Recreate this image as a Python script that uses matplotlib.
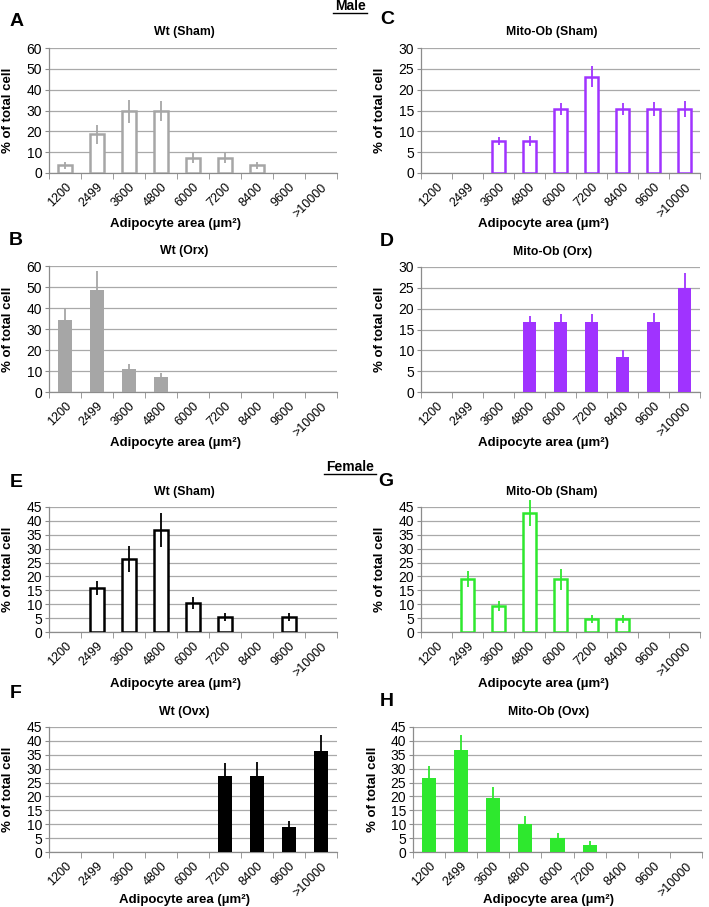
import numpy as np
import matplotlib
matplotlib.use('Agg')
import matplotlib.pyplot as plt
from matplotlib.lines import Line2D
from matplotlib.transforms import ScaledTranslation

plt.rcParams['font.family'] = ['Liberation Sans', 'DejaVu Sans']

######################
## data
######################

areas = ['1200', '2499', '3600', '4800', '6000', '7200', '8400', '9600', '>10000']

# male
wt_sham_m = [3.7, 18.5, 29.6, 29.6, 7.4, 7.4, 3.7, 0, 0]
wt_sham_m_err = [1.8, 4.5, 5.5, 4.8, 2.6, 2.6, 1.8, 0, 0]
mito_sham_m = [0, 0, 7.7, 7.7, 15.4, 23.1, 15.4, 15.4, 15.4]
mito_sham_m_err = [0, 0, 1.0, 1.1, 1.5, 2.5, 1.5, 1.7, 2.0]
wt_orx = [34.2, 48.4, 10.8, 7.3, 0, 0, 0, 0, 0]
wt_orx_err = [5.8, 9.0, 2.7, 1.7, 0, 0, 0, 0, 0]
mito_orx = [0, 0, 0, 16.7, 16.7, 16.7, 8.3, 16.7, 25.0]
mito_orx_err = [0, 0, 0, 1.6, 2.1, 2.0, 1.7, 2.3, 3.5]

# female
wt_sham_f = [0, 15.8, 26.3, 36.8, 10.5, 5.3, 0, 5.3, 0]
wt_sham_f_err = [0, 2.5, 4.7, 6.2, 2.2, 1.5, 0, 1.5, 0]
mito_sham_f = [0, 19.0, 9.5, 42.9, 19.0, 4.8, 4.8, 0, 0]
mito_sham_f_err = [0, 2.8, 1.8, 4.6, 3.8, 1.4, 1.4, 0, 0]
wt_ovx = [0, 0, 0, 0, 0, 27.3, 27.3, 9.1, 36.4]
wt_ovx_err = [0, 0, 0, 0, 0, 4.9, 5.2, 1.9, 5.8]
mito_ovx = [26.7, 36.7, 19.3, 10.0, 5.0, 2.5, 0, 0, 0]
mito_ovx_err = [4.3, 5.3, 4.0, 3.0, 2.0, 1.5, 0, 0, 0]

GRAY = '#a6a6a6'
PURPLE = '#a033ff'
GREEN = '#2ee82e'
BLACK = '#000000'

W, H = 709, 907
fig = plt.figure(figsize=(W / 100, H / 100), dpi=100)
shift = ScaledTranslation(-3 / 100, 0, fig.dpi_scale_trans)


def px_axes(left, top, right, bottom):
    return fig.add_axes([left / W, 1 - bottom / H, (right - left) / W, (bottom - top) / H])


def panel(rect, letter, letter_xy, title, vals, errs, color, filled, ymax, ystep,
          ylab_x, xlab_xy):
    ax = px_axes(*rect)
    x = np.arange(len(areas))
    vals = np.array(vals)
    errs = np.array(errs)
    show = vals > 0
    if filled:
        ax.bar(x[show], vals[show], width=0.44, color=color, zorder=3)
        ax.errorbar(x[show], vals[show], yerr=errs[show], fmt='none', ecolor=color,
                    elinewidth=1.3, capsize=0, zorder=2, clip_on=False)
    else:
        ax.bar(x[show], vals[show], width=0.42, facecolor='white', edgecolor=color,
               linewidth=1.8, zorder=3)
        ax.errorbar(x[show], vals[show], yerr=errs[show], fmt='none', ecolor=color,
                    elinewidth=1.3, capsize=0, zorder=4, clip_on=False)
    ax.set_xlim(-0.5, len(areas) - 0.5)
    ax.set_ylim(0, ymax)
    ax.set_yticks(np.arange(0, ymax + 0.1, ystep))
    ax.yaxis.grid(True, color='#a9a9a9', linewidth=0.9, zorder=0)
    ax.set_axisbelow(True)
    for s in ['top', 'right']:
        ax.spines[s].set_visible(False)
    for s in ['left', 'bottom']:
        ax.spines[s].set_color('#8c8c8c')
        ax.spines[s].set_linewidth(0.9)
    ax.set_xticks(x)
    ax.set_xticklabels(areas, rotation=45, ha='right', rotation_mode='anchor',
                       fontsize=9)
    for lbl in ax.get_xticklabels():
        lbl.set_transform(lbl.get_transform() + shift)
    ax.set_xticks(np.arange(-0.5, len(areas)), minor=True)
    ax.tick_params(axis='x', which='major', length=0, pad=6)
    ax.tick_params(axis='x', which='minor', length=4, color='#8c8c8c')
    ax.tick_params(axis='y', length=3, color='#8c8c8c', labelsize=10, pad=2)
    ax.set_title(title, fontsize=8.8, fontweight='bold', x=0.47, pad=9)
    ax.set_ylabel('% of total cell', fontsize=9.5, fontweight='bold')
    ax.yaxis.set_label_coords(ylab_x, 0.5)
    ax.set_xlabel('Adipocyte area (µm²)', fontsize=9.5, fontweight='bold')
    ax.xaxis.set_label_coords(*xlab_xy)
    fig.text(letter_xy[0] / W, 1 - letter_xy[1] / H, letter, fontsize=14,
             fontweight='bold', ha='center', va='center')
    return ax


panel((49, 48, 337, 173), 'A', (17, 22), 'Wt (Sham)', wt_sham_m, wt_sham_m_err,
      GRAY, False, 60, 10, -0.12, (0.44, -0.36))
panel((421, 48, 700, 173), 'C', (387, 20), 'Mito-Ob (Sham)', mito_sham_m, mito_sham_m_err,
      PURPLE, False, 30, 5, -0.125, (0.44, -0.36))
panel((49, 266, 337, 392), 'B', (16, 240), 'Wt (Orx)', wt_orx, wt_orx_err,
      GRAY, True, 60, 10, -0.12, (0.44, -0.36))
panel((421, 267, 700, 392), 'D', (387, 242), 'Mito-Ob (Orx)', mito_orx, mito_orx_err,
      PURPLE, True, 30, 5, -0.125, (0.44, -0.36))
panel((49, 507, 337, 632), 'E', (16, 483), 'Wt (Sham)', wt_sham_f, wt_sham_f_err,
      BLACK, False, 45, 5, -0.12, (0.44, -0.365))
panel((421, 507, 700, 632), 'G', (386, 482), 'Mito-Ob (Sham)', mito_sham_f, mito_sham_f_err,
      GREEN, False, 45, 5, -0.125, (0.44, -0.365))
panel((49, 727, 337, 852), 'F', (16, 693), 'Wt (Ovx)', wt_ovx, wt_ovx_err,
      BLACK, True, 45, 5, -0.12, (0.47, -0.34))
panel((413, 727, 702, 852), 'H', (387, 702), 'Mito-Ob (Ovx)', mito_ovx, mito_ovx_err,
      GREEN, True, 45, 5, -0.118, (0.47, -0.34))

######################
## section headers
######################

for label, y, half in [('Male', 6, 17), ('Female', 467, 26)]:
    fig.text(350 / W, 1 - y / H, label, fontsize=10, fontweight='bold',
             ha='center', va='center')
    yl = 1 - (y + 7) / H
    fig.add_artist(Line2D([(350 - half) / W, (350 + half) / W], [yl, yl],
                          color='black', linewidth=1.0))

fig.savefig('out.png', dpi=100)
